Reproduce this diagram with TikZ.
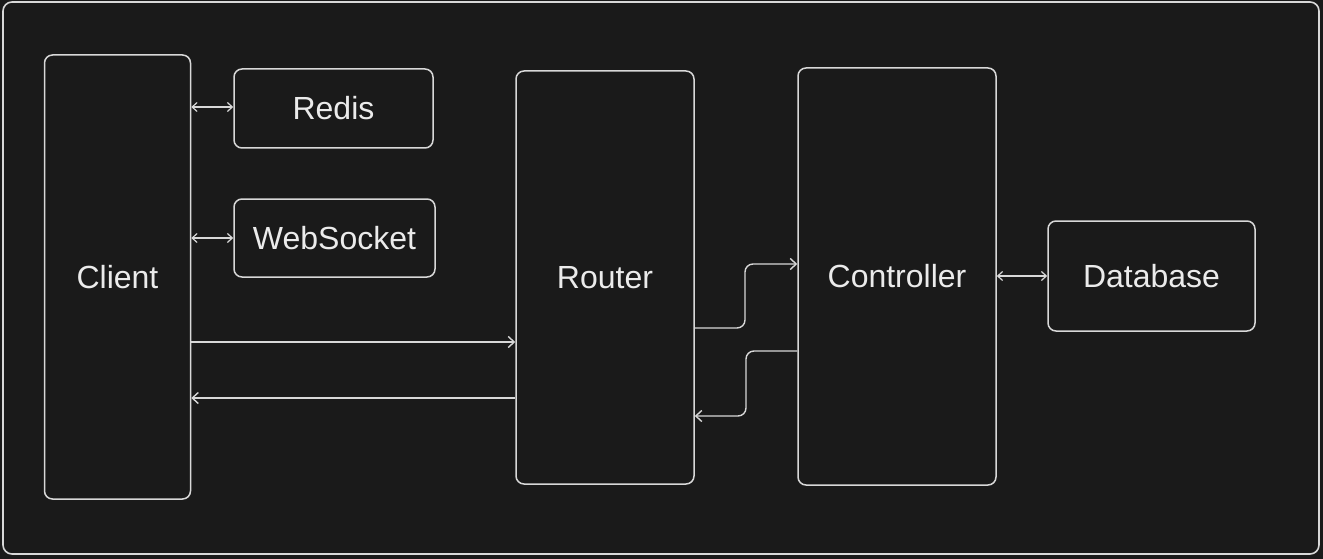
\documentclass[tikz,border=0pt]{standalone}
\usepackage{fontspec}
\setmainfont{Liberation Sans}
\usetikzlibrary{arrows.meta}
\definecolor{bg}{HTML}{1A1A1A}
\definecolor{ln}{HTML}{D8D8D8}
\definecolor{tx}{HTML}{EBEBEB}
\begin{document}
\begin{tikzpicture}[x=1pt,y=-1pt,
  box/.style={draw=ln,line width=1.5pt,rounded corners=8pt,fill=bg,text=tx,
    font=\fontsize{32}{36}\selectfont,inner sep=0pt},
  conn/.style={draw=ln,line width=1.4pt,-{Straight Barb[length=6pt,width=11pt,line width=1.4pt]}},
  bidir/.style={draw=ln,line width=1.2pt,{Straight Barb[length=5pt,width=9pt,line width=1.2pt]}-{Straight Barb[length=5pt,width=9pt,line width=1.2pt]}}]
\fill[bg] (0,0) rectangle (1323,559);
\useasboundingbox (0,0) rectangle (1323,559);
\draw[ln,line width=1.6pt,rounded corners=9pt] (3,2) rectangle (1319,554);

\node[box,minimum width=146pt,minimum height=444pt] (client) at (117.5,277) {Client};
\node[box,minimum width=199pt,minimum height=79pt] (redis) at (333.5,108.5) {Redis};
\node[box,minimum width=201pt,minimum height=78pt] (ws) at (334.5,238) {WebSocket};
\node[box,minimum width=178pt,minimum height=413pt] (router) at (605,277.5) {Router};
\node[box,minimum width=198pt,minimum height=417pt] (ctrl) at (897,276.5) {Controller};
\node[box,minimum width=207pt,minimum height=110pt] (db) at (1151.5,276) {Database};

\draw[bidir] (client.east |- 0,107) -- (redis.west |- 0,107);
\draw[bidir] (client.east |- 0,238) -- (ws.west |- 0,238);
\draw[conn] (client.east |- 0,342) -- (router.west |- 0,342);
\draw[conn] (router.west |- 0,398) -- (client.east |- 0,398);
\draw[conn,rounded corners=8pt] (router.east |- 0,328) -- (745,328) -- (745,264) -- (ctrl.west |- 0,264);
\draw[conn,rounded corners=8pt] (ctrl.west |- 0,351) -- (746,351) -- (746,416) -- (router.east |- 0,416);
\draw[bidir] (ctrl.east |- 0,276) -- (db.west |- 0,276);
\end{tikzpicture}
\end{document}
